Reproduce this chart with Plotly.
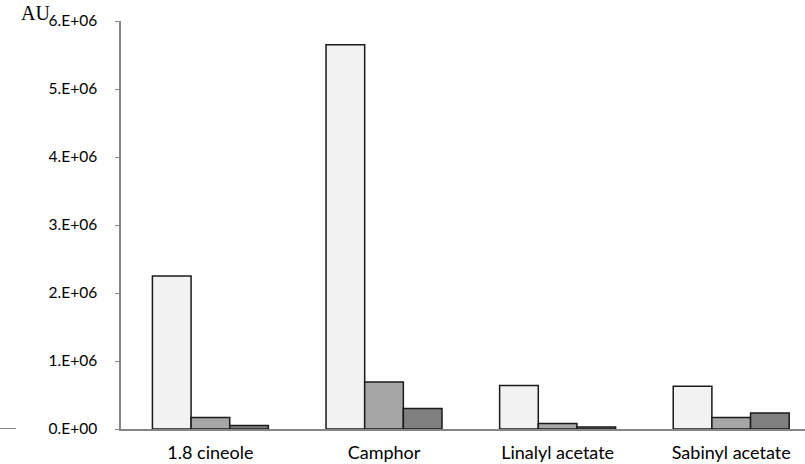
import plotly.graph_objects as go

categories = ["1.8 cineole", "Camphor", "Linalyl acetate", "Sabinyl acetate"]
series_a = [2.25e6, 5.65e6, 0.64e6, 0.63e6]
series_b = [0.17e6, 0.69e6, 0.08e6, 0.17e6]
series_c = [0.05e6, 0.30e6, 0.03e6, 0.235e6]
y_tickvals = [0, 1e6, 2e6, 3e6, 4e6, 5e6, 6e6]
y_ticktext = ["0.E+00", "1.E+06", "2.E+06", "3.E+06", "4.E+06", "5.E+06", "6.E+06"]

fills = ["#f2f2f2", "#a6a6a6", "#808080"]

fig = go.Figure()
for vals, col in zip([series_a, series_b, series_c], fills):
    fig.add_trace(go.Bar(x=categories, y=vals, marker=dict(color=col, line=dict(color="#1a1a1a", width=1.5)),
                         showlegend=False))

fig.update_layout(
    width=805, height=464,
    margin=dict(l=121, r=0, t=21, b=35, autoexpand=False),
    paper_bgcolor="white", plot_bgcolor="white",
    barmode="group", bargap=0.332, bargroupgap=0,
    font=dict(family="Lato", size=15, color="#000"),
    xaxis=dict(range=[-0.515, 3.425], showline=True, linecolor="#868686", linewidth=2,
               ticks="", showgrid=False, automargin=False, tickfont=dict(size=18),
               ticklabelstandoff=6),
    yaxis=dict(range=[0, 6e6], tickvals=y_tickvals, ticktext=y_ticktext, showline=True,
               linecolor="#868686", linewidth=1.5, ticks="outside", ticklen=4, tickcolor="#868686",
               showgrid=False, zeroline=False, ticklabelstandoff=15, automargin=False,
               tickfont=dict(size=15.5)),
    annotations=[dict(text="AU", xref="paper", yref="paper", x=-0.149, y=1.0, yshift=8,
                      xanchor="left", yanchor="middle", showarrow=False,
                      font=dict(family="Liberation Serif", size=20, color="#000"))],
    shapes=[dict(type="line", xref="paper", yref="y", x0=-0.1769, x1=-0.1535, y0=0, y1=0,
                 line=dict(color="#868686", width=2))],
)

fig.write_html("out.html", config={"displayModeBar": False},
               post_script="document.body.style.margin='0';")
